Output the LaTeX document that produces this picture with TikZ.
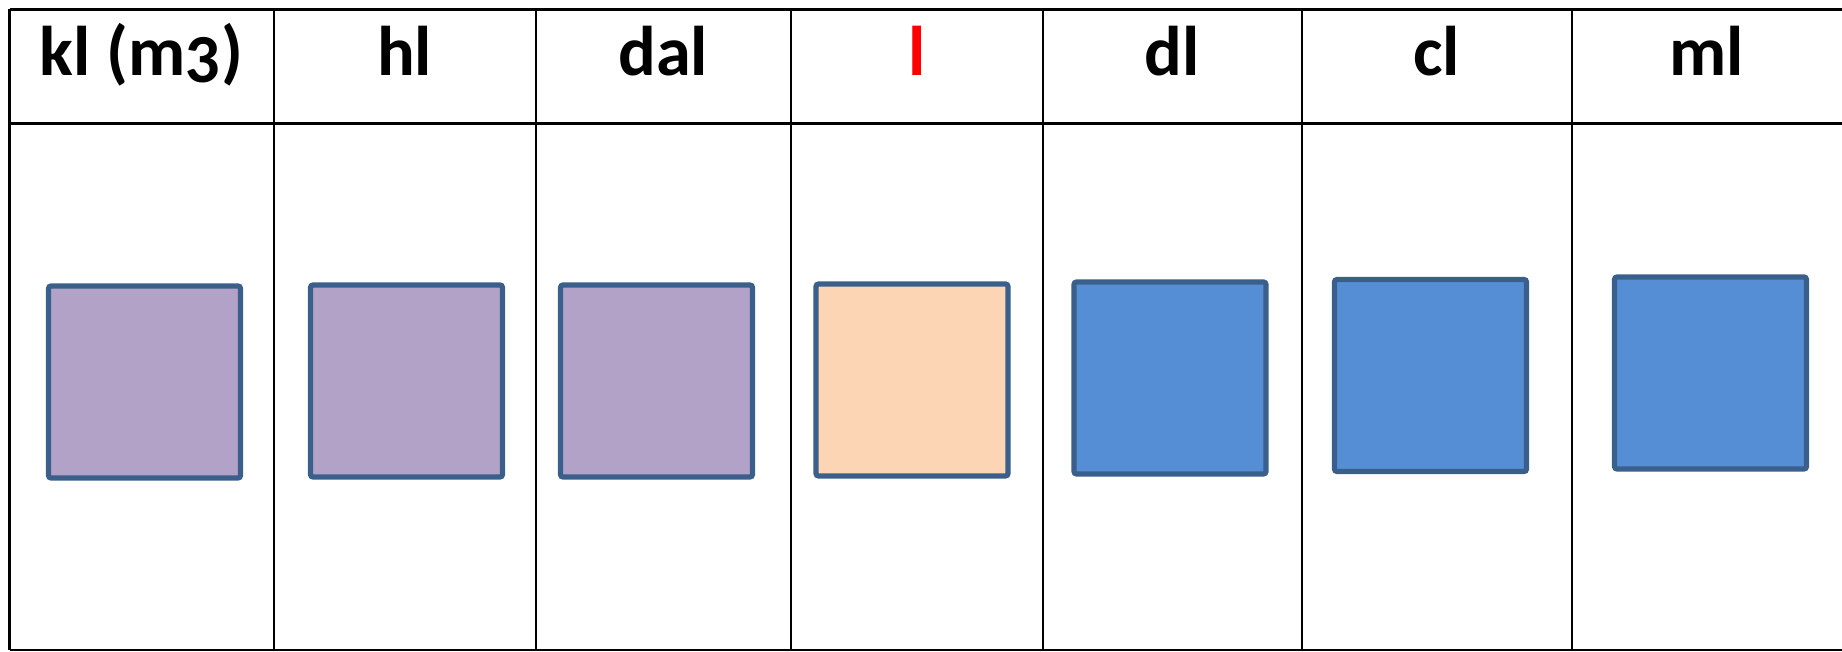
\documentclass[tikz,border=0pt]{standalone}
\usepackage{fontspec}
\setmainfont{Carlito}
\usepackage{tikz}
\definecolor{lila}{HTML}{B3A2C7}
\definecolor{peach}{HTML}{FCD5B5}
\definecolor{sky}{HTML}{558ED5}
\definecolor{rim}{HTML}{3A5F8B}
\tikzset{
  cube/.style={draw=rim, line width=1.5pt, rounded corners=0.8pt,
    minimum width=1.92cm, minimum height=1.92cm, inner sep=0pt},
  unit/.style={anchor=base, font=\fontsize{20}{24}\selectfont\bfseries}
}
\begin{document}
\begin{tikzpicture}[x=0.01cm,y=-0.01cm]
        \useasboundingbox (0,0) rectangle (1842,652);
        % table lines
        \draw [color = black, line width=0.6pt] (9.5,9.5) -- (1842,9.5);
        \draw [color = black, line width=0.6pt] (9.5,123.5) -- (1842,123.5);
        \draw [color = black, line width=0.6pt] (9.5,650) -- (1842,650);
        \foreach \x in {9.5,273.7,535.7,790.6,1043.2,1301.6,1571.8}
          \draw [color = black, line width=0.6pt] (\x,9.5) -- (\x,650);
        % header
        \node[unit] (kl)  at (141.5,76) {kl ({\addfontfeatures{Numbers=OldStyle}m3})};
        \node[unit] (hl)  at (404.7,76) {hl};
        \node[unit] (dal) at (663.2,76) {dal};
        \node[unit, text=red] (l) at (916.9,76) {l};
        \node[unit] (dl)  at (1172.4,76) {dl};
        \node[unit] (cl)  at (1436.7,76) {cl};
        \node[unit] (ml)  at (1707,76) {ml};
        % squares
        \node[cube, fill=lila]  (qkl)  at (144.5,382) {};
        \node[cube, fill=lila]  (qhl)  at (406.5,381) {};
        \node[cube, fill=lila]  (qdal) at (656.5,381) {};
        \node[cube, fill=peach] (ql)   at (912,380) {};
        \node[cube, fill=sky]   (qdl)  at (1170,378) {};
        \node[cube, fill=sky]   (qcl)  at (1430.5,375.5) {};
        \node[cube, fill=sky]   (qml)  at (1710.5,373) {};
\end{tikzpicture}
\end{document}
